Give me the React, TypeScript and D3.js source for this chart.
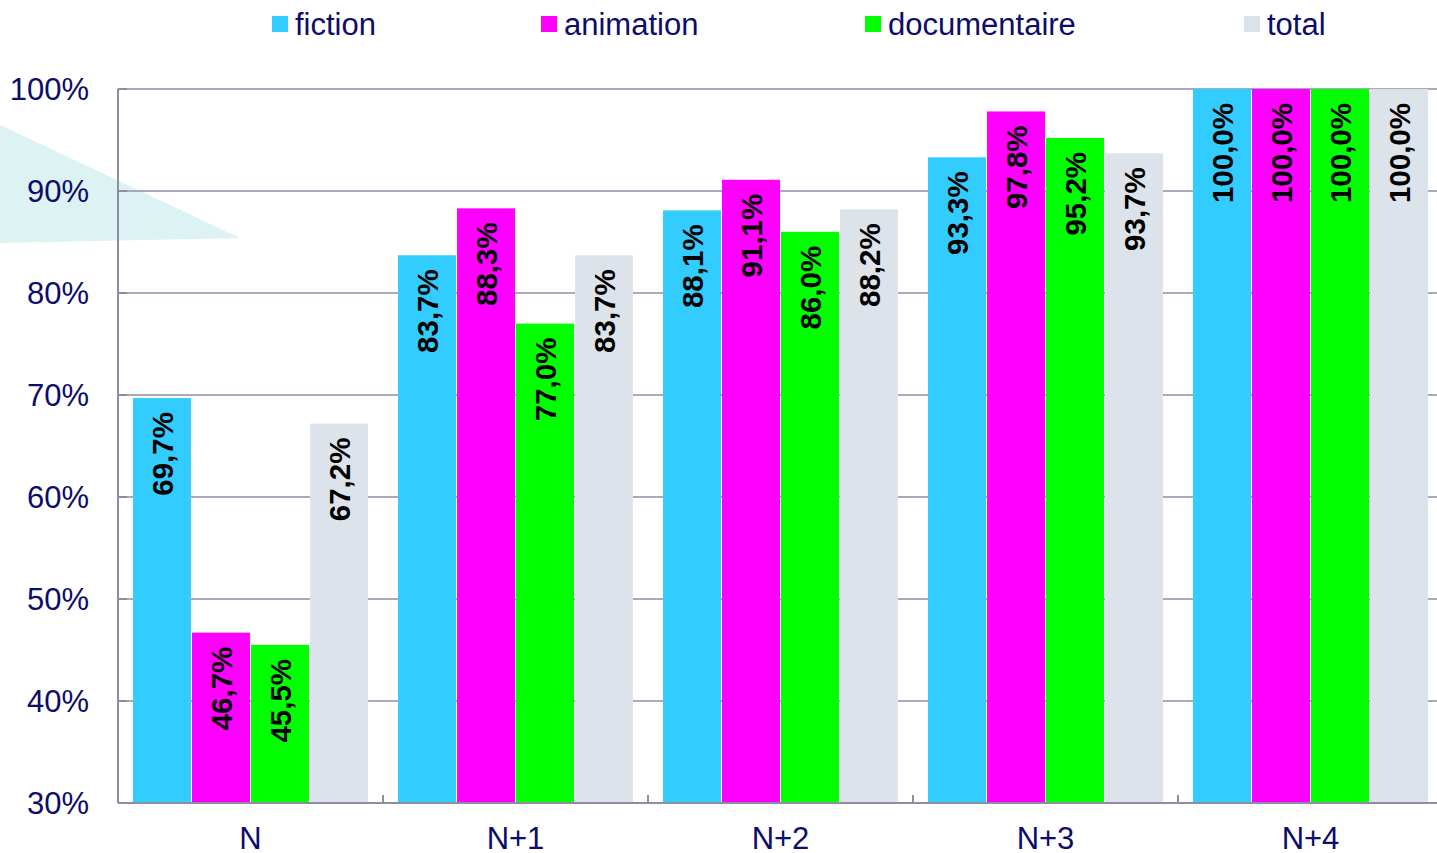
import React from 'react'
import * as d3 from 'd3'

const categories = ['N', 'N+1', 'N+2', 'N+3', 'N+4']
const series = ['fiction', 'animation', 'documentaire', 'total']
const colors = ['#33ccff', '#ff00ff', '#00ff00', '#dce3ea']

const fiction = [69.7, 83.7, 88.1, 93.3, 100.0]
const animation = [46.7, 88.3, 91.1, 97.8, 100.0]
const documentaire = [45.5, 77.0, 86.0, 95.2, 100.0]
const total = [67.2, 83.7, 88.2, 93.7, 100.0]
const values = [fiction, animation, documentaire, total]

const yTicks = [30, 40, 50, 60, 70, 80, 90, 100]

const legendX = [272, 541, 865, 1244]

const width = 1437
const height = 853
const left = 118
const top = 89
const bottom = 803
const navy = '#0c0c6c'
const font = '"Liberation Sans", Arial, sans-serif'

export default function App() {
  const x = d3.scaleBand<string>().domain(categories).range([left, left + 265 * 5])
  const inner = d3.scaleBand<string>().domain(series).range([15, 15 + 59 * 4])
  const y = d3.scaleLinear().domain([30, 100]).range([bottom, top])
  const fmt = (v: number) => v.toFixed(1).replace('.', ',') + '%'

  return (
    <>
      <style>{'body{margin:0}'}</style>
      <svg width={width} height={height} style={{ display: 'block', fontFamily: font }}>
        <rect width={width} height={height} fill='#fff' />
        <polygon points='0,125 240,238 0,243' fill='#dcf2f3' />

        {yTicks.map(t => (
          <g key={t}>
            <line x1={left} x2={width} y1={y(t)} y2={y(t)} stroke='#a9a9bb' strokeWidth={2} />
            <line x1={left} x2={left + 9} y1={y(t)} y2={y(t)} stroke='#8c8ca2' strokeWidth={2} />
            <text x={89} y={y(t)} dy='0.35em' textAnchor='end' fontSize={31} fill={navy}>{t}%</text>
          </g>
        ))}

        {values.map((vals, si) =>
          vals.map((v, ci) => {
            const bx = (x(categories[ci]) as number) + (inner(series[si]) as number)
            const bw = inner.bandwidth()
            return (
              <g key={`${si}-${ci}`}>
                <rect x={bx} y={y(v)} width={bw - 1} height={bottom - y(v)} fill={colors[si]} />
                <text
                  transform={`translate(${bx + bw / 2},${y(v) + 14}) rotate(-90)`}
                  dy='0.35em'
                  textAnchor='end'
                  fontSize={29.5}
                  fontWeight='bold'
                  fill='#000'
                >
                  {fmt(v)}
                </text>
              </g>
            )
          })
        )}

        <line x1={left} x2={left} y1={top} y2={bottom} stroke='#8c8ca2' strokeWidth={2} />
        <line x1={left} x2={width} y1={bottom} y2={bottom} stroke='#8c8ca2' strokeWidth={2} />
        {categories.slice(1).map(c => (
          <line key={c} x1={x(c)} x2={x(c)} y1={bottom - 8} y2={bottom} stroke='#8c8ca2' strokeWidth={2} />
        ))}

        {categories.map(c => (
          <text key={c} x={(x(c) as number) + x.bandwidth() / 2} y={838} dy='0.35em' textAnchor='middle' fontSize={31} fill={navy}>{c}</text>
        ))}

        {series.map((s, i) => (
          <g key={s}>
            <rect x={legendX[i]} y={16} width={16} height={16} fill={colors[i]} />
            <text x={legendX[i] + 23} y={35} fontSize={31} fill={navy}>{s}</text>
          </g>
        ))}
      </svg>
    </>
  )
}
